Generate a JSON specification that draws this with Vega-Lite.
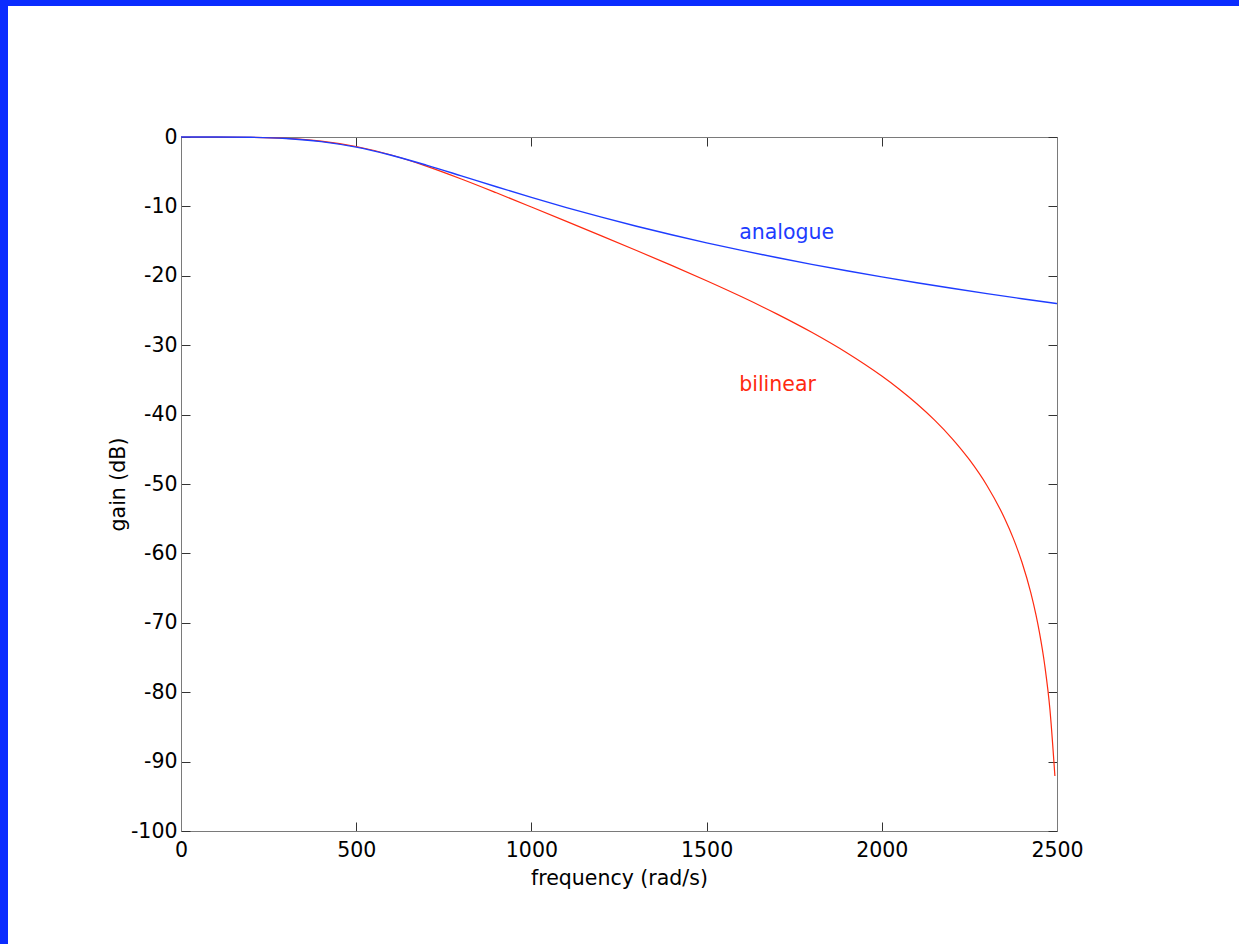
{
  "$schema": "https://vega.github.io/schema/vega-lite/v6.json",
  "width": 1231,
  "height": 938,
  "autosize": {"type": "none"},
  "padding": {"left": 8, "top": 6, "right": 0, "bottom": 0},
  "background": "#0b2cff",
  "config": {
    "view": {"fill": "white", "stroke": null},
    "font": "DejaVu Sans",
    "axis": {
      "grid": false,
      "domainColor": "#7a7a7a",
      "domainWidth": 1,
      "tickColor": "#333333",
      "tickWidth": 1,
      "tickSize": -9,
      "labelFont": "DejaVu Sans",
      "labelFontSize": 20.5,
      "labelColor": "#000000",
      "labelFlush": false,
      "labelBound": false,
      "labelOverlap": false,
      "labelExpr": "'' + datum.value",
      "titleFont": "DejaVu Sans",
      "titleFontSize": 20.5,
      "titleFontWeight": "normal",
      "titleColor": "#000000"
    }
  },
  "datasets": {
    "analogue": [
      {"f": 0, "gain": 0},
      {"f": 100, "gain": -0.003},
      {"f": 200, "gain": -0.044},
      {"f": 300, "gain": -0.22},
      {"f": 400, "gain": -0.661},
      {"f": 500, "gain": -1.464},
      {"f": 600, "gain": -2.628},
      {"f": 700, "gain": -4.049},
      {"f": 800, "gain": -5.597},
      {"f": 900, "gain": -7.168},
      {"f": 1000, "gain": -8.702},
      {"f": 1100, "gain": -10.168},
      {"f": 1200, "gain": -11.555},
      {"f": 1300, "gain": -12.861},
      {"f": 1400, "gain": -14.09},
      {"f": 1500, "gain": -15.248},
      {"f": 1600, "gain": -16.339},
      {"f": 1700, "gain": -17.371},
      {"f": 1800, "gain": -18.348},
      {"f": 1900, "gain": -19.275},
      {"f": 2000, "gain": -20.156},
      {"f": 2100, "gain": -20.996},
      {"f": 2200, "gain": -21.798},
      {"f": 2300, "gain": -22.566},
      {"f": 2400, "gain": -23.302},
      {"f": 2500, "gain": -24.008}
    ],
    "bilinear": [
      {"f": 0, "gain": 0},
      {"f": 100, "gain": -0.002},
      {"f": 200, "gain": -0.037},
      {"f": 300, "gain": -0.187},
      {"f": 400, "gain": -0.586},
      {"f": 500, "gain": -1.368},
      {"f": 600, "gain": -2.59},
      {"f": 700, "gain": -4.193},
      {"f": 800, "gain": -6.048},
      {"f": 900, "gain": -8.039},
      {"f": 1000, "gain": -10.088},
      {"f": 1100, "gain": -12.16},
      {"f": 1200, "gain": -14.247},
      {"f": 1300, "gain": -16.355},
      {"f": 1400, "gain": -18.503},
      {"f": 1500, "gain": -20.716},
      {"f": 1600, "gain": -23.029},
      {"f": 1700, "gain": -25.485},
      {"f": 1800, "gain": -28.145},
      {"f": 1900, "gain": -31.092},
      {"f": 2000, "gain": -34.453},
      {"f": 2050, "gain": -36.348},
      {"f": 2100, "gain": -38.435},
      {"f": 2150, "gain": -40.765},
      {"f": 2200, "gain": -43.415},
      {"f": 2250, "gain": -46.502},
      {"f": 2300, "gain": -50.215},
      {"f": 2350, "gain": -54.899},
      {"f": 2375, "gain": -57.803},
      {"f": 2400, "gain": -61.282},
      {"f": 2425, "gain": -65.625},
      {"f": 2440, "gain": -68.866},
      {"f": 2450, "gain": -71.418},
      {"f": 2465, "gain": -76.122},
      {"f": 2480, "gain": -82.589},
      {"f": 2494, "gain": -92.08}
    ],
    "labels": [
      {"f": 1593, "gain": -14.74, "label": "analogue"},
      {"f": 1593, "gain": -36.53, "label": "bilinear"}
    ]
  },
  "layer": [
    {
      "data": {"name": "bilinear"},
      "mark": {"type": "line", "color": "#ff2a10", "strokeWidth": 1.2, "interpolate": "monotone"},
      "encoding": {
        "x": {
          "field": "f", "type": "quantitative",
          "scale": {"domain": [0, 2500], "range": [173, 1049], "nice": false, "zero": false},
          "axis": {"orient": "top", "offset": -131, "labels": false, "title": null, "values": [0, 500, 1000, 1500, 2000, 2500]}
        },
        "y": {
          "field": "gain", "type": "quantitative",
          "scale": {"domain": [-100, 0], "range": [825, 131], "nice": false, "zero": false},
          "axis": {"orient": "right", "offset": -182, "labels": false, "title": null, "values": [-100, -90, -80, -70, -60, -50, -40, -30, -20, -10, 0]}
        }
      }
    },
    {
      "data": {"name": "analogue"},
      "mark": {"type": "line", "color": "#1e3cff", "strokeWidth": 1.4, "interpolate": "monotone"},
      "encoding": {
        "x": {
          "field": "f", "type": "quantitative",
          "axis": {"orient": "bottom", "offset": -113, "title": "frequency (rad/s)", "labelPadding": 18, "titlePadding": 8, "values": [0, 500, 1000, 1500, 2000, 2500]}
        },
        "y": {
          "field": "gain", "type": "quantitative",
          "axis": {"orient": "left", "offset": -173, "title": "gain (dB)", "labelPadding": 13, "titlePadding": 2, "values": [-100, -90, -80, -70, -60, -50, -40, -30, -20, -10, 0]}
        }
      }
    },
    {
      "data": {"name": "labels"},
      "mark": {"type": "text", "align": "left", "baseline": "alphabetic", "fontSize": 20.5, "font": "DejaVu Sans"},
      "encoding": {
        "x": {"field": "f", "type": "quantitative", "axis": null},
        "y": {"field": "gain", "type": "quantitative", "axis": null},
        "text": {"field": "label"},
        "color": {"field": "label", "type": "nominal", "scale": {"domain": ["analogue", "bilinear"], "range": ["#1e3cff", "#ff2a10"]}, "legend": null}
      }
    }
  ],
  "resolve": {"axis": {"x": "independent", "y": "independent"}}
}
